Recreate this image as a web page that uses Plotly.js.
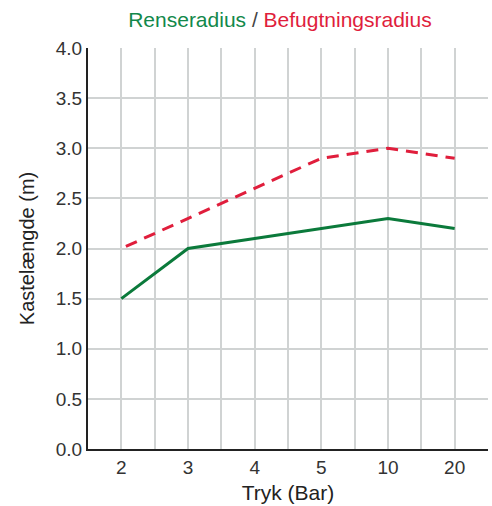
<!DOCTYPE html>
<html><head><meta charset="utf-8">
<script src="https://cdn.plot.ly/plotly-3.0.1.min.js"></script>
<style>html,body{margin:0;padding:0;background:#fff}#chart{width:492px;height:506px}</style>
</head><body><div id="chart"></div>
<script>
const categories = ["2", "3", "4", "5", "10", "20"];
const renseradius = [1.5, 2.0, 2.1, 2.2, 2.3, 2.2];
const befugtningsradius = [2.0, 2.3, 2.6, 2.9, 3.0, 2.9];
const yTicks = [0, 0.5, 1.0, 1.5, 2.0, 2.5, 3.0, 3.5, 4.0];

const xIdx = categories.map((c, i) => i);
const font = "Liberation Sans, Arial, sans-serif";

const traces = [
  {x: xIdx, y: renseradius, type: "scatter", mode: "lines", name: "Renseradius",
   line: {color: "#0b7a3b", width: 3}},
  {x: xIdx, y: befugtningsradius, type: "scatter", mode: "lines", name: "Befugtningsradius",
   line: {color: "#e01e3c", width: 3, dash: "0px,5px,12px,3px"}}
];

const layout = {
  width: 492, height: 506,
  margin: {l: 88, r: 4, t: 48, b: 57},
  paper_bgcolor: "#fff", plot_bgcolor: "#fff",
  showlegend: false,
  font: {family: font, size: 19, color: "#333"},
  title: {text: '<span style="color:#12884a">Renseradius</span> / <span style="color:#e01e3c">Befugtningsradius</span>',
          font: {family: font, size: 21, color: "#444"}, xref: "container", x: 0.569, xanchor: "center", y: 0.962, yanchor: "middle"},
  xaxis: {
    range: [-0.5, 5.5], tickmode: "array", tickvals: xIdx, ticktext: categories,
    showgrid: true, gridcolor: "#d0d3d3", gridwidth: 2,
    minor: {tickmode: "linear", dtick: 1, tick0: 0.5, showgrid: true, gridcolor: "#d0d3d3", gridwidth: 2},
    zeroline: false, showline: true, linecolor: "#222", linewidth: 2,
    ticks: "", ticklen: 0,
    tickfont: {family: font, size: 19, color: "#333"},
    title: {text: "Tryk (Bar)", font: {family: font, size: 21, color: "#222"}, standoff: 9}
  },
  yaxis: {
    range: [0, 4.0], tickmode: "array", tickvals: yTicks, ticktext: yTicks.map(v => v.toFixed(1)),
    showgrid: true, gridcolor: "#d0d3d3", gridwidth: 2,
    zeroline: false, showline: true, linecolor: "#222", linewidth: 2,
    ticks: "", ticklen: 0,
    tickfont: {family: font, size: 19, color: "#333"},
    title: {text: "Kastelængde (m)", font: {family: font, size: 20, color: "#222"}, standoff: 16}
  }
};

Plotly.newPlot("chart", traces, layout, {displayModeBar: false, staticPlot: true});
</script></body></html>
